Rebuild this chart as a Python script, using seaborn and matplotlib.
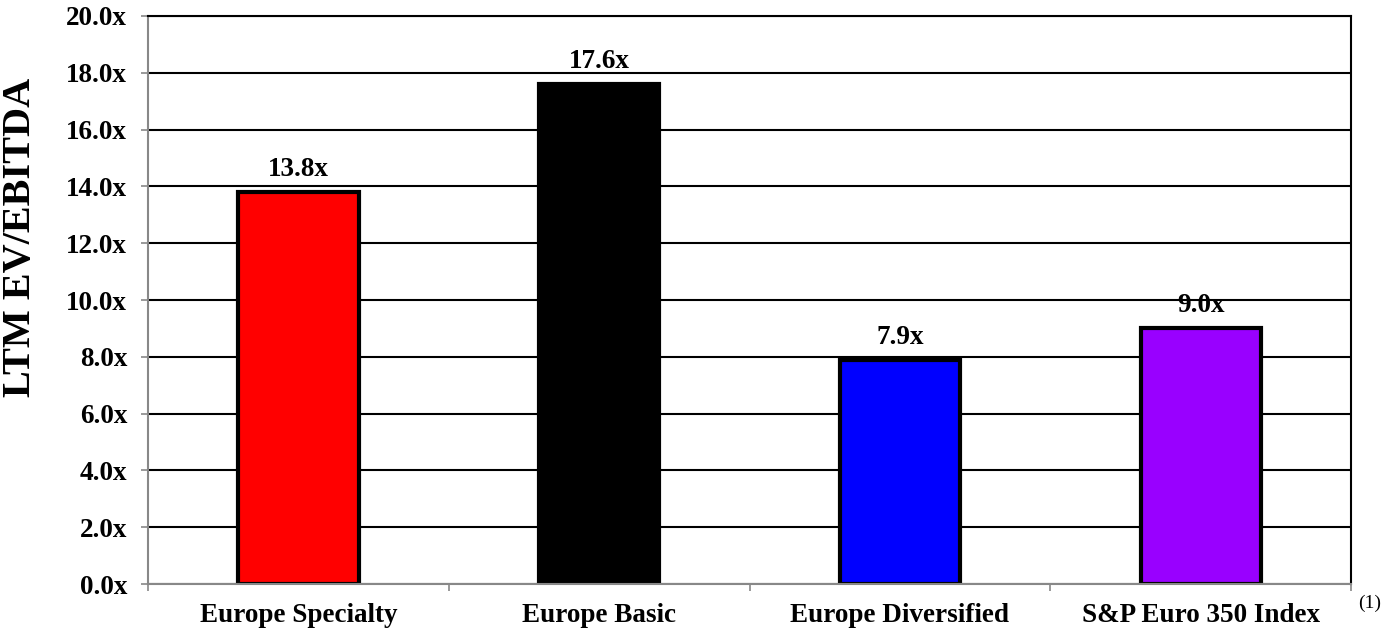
import matplotlib
matplotlib.use("Agg")
import matplotlib.pyplot as plt
import seaborn as sns
import pandas as pd
from matplotlib.ticker import FuncFormatter, FixedLocator

categories = ["Europe Specialty", "Europe Basic", "Europe Diversified", "S&P Euro 350 Index"]
values = [13.8, 17.6, 7.9, 9.0]
colors = ["#FF0000", "#000000", "#0000FF", "#9900FF"]
y_ticks = [0, 2, 4, 6, 8, 10, 12, 14, 16, 18, 20]

sns.set_style("white")
plt.rcParams["font.family"] = ["Liberation Serif", "DejaVu Serif"]
plt.rcParams["text.color"] = "black"
plt.rcParams["xtick.color"] = "black"
plt.rcParams["ytick.color"] = "black"

df = pd.DataFrame({"category": categories, "value": values})

fig = plt.figure(figsize=(13.89, 6.29), dpi=100)
ax = fig.add_axes([0.1066, 0.0715, 0.8661, 0.9031])

sns.barplot(data=df, x="category", y="value", hue="category", palette=colors,
            saturation=1, width=0.4, edgecolor="black", linewidth=3,
            legend=False, ax=ax, zorder=2)

ax.set_xlim(-0.5, 3.5)
ax.set_ylim(0, 20)
ax.set_axisbelow(True)
ax.yaxis.set_major_locator(FixedLocator(y_ticks))
ax.yaxis.grid(True, color="black", linewidth=1.5)
ax.yaxis.set_major_formatter(FuncFormatter(lambda v, p: f"{v:.1f}x"))

for i, v in enumerate(values):
    ax.text(i, v + 0.35, f"{v:.1f}x", ha="center", va="bottom", fontsize=19.5,
            fontweight="bold", color="black", zorder=0.2)

# category labels sit between boundary ticks
ax.set_xticks([-0.5, 0.5, 1.5, 2.5, 3.5])
ax.set_xticklabels([])
ax.set_xticks(range(len(categories)), minor=True)
ax.set_xticklabels(categories, minor=True, fontsize=19.5, fontweight="bold")
ax.tick_params(axis="x", which="minor", bottom=False, length=0, pad=14)
ax.tick_params(axis="x", which="major", bottom=True, length=5, color="#888888",
               width=1.2, direction="out")
ax.tick_params(axis="y", left=True, length=5, color="#888888", width=1.2,
               direction="out", pad=10)
for lab in ax.get_yticklabels():
    lab.set_fontsize(19.5)
    lab.set_fontweight("bold")

ax.set_xlabel("")
ax.set_ylabel("")
fig.text(0.0145, 1 - 237 / 629, "LTM EV/EBITDA", rotation=90, ha="center", va="center",
         fontsize=29, fontweight="bold")

for side in ["left", "bottom"]:
    ax.spines[side].set_color("#888888")
    ax.spines[side].set_linewidth(1.5)
for side in ["right", "top"]:
    ax.spines[side].set_visible(True)
    ax.spines[side].set_color("black")
    ax.spines[side].set_linewidth(1.5)

fig.text(0.986, 0.04, "(1)", ha="center", va="center", fontsize=14)

fig.savefig("out.png", dpi=100)
